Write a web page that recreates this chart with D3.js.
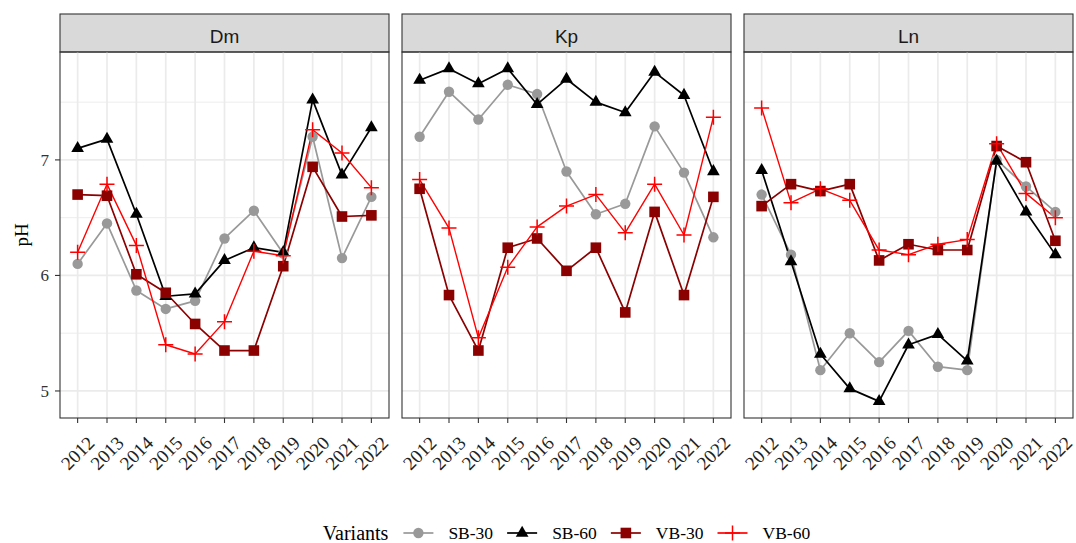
<!DOCTYPE html>
<html>
<head>
<meta charset="utf-8">
<script src="https://cdn.jsdelivr.net/npm/d3@7"></script>
<style>
  body { margin: 0; background: #fff; }
  svg { display: block; }
</style>
</head>
<body>
<svg id="chart" width="1076" height="543"></svg>
<script>
// Soil pH by site, year and variant
const years = ["2012","2013","2014","2015","2016","2017","2018","2019","2020","2021","2022"];
const sites = ["Dm", "Kp", "Ln"];
const variants = ["SB-30", "SB-60", "VB-30", "VB-60"];
const yTicks = [5, 6, 7];

const dmSB30 = [6.10, 6.45, 5.87, 5.71, 5.78, 6.32, 6.56, 6.19, 7.20, 6.15, 6.68];
const dmSB60 = [7.10, 7.18, 6.53, 5.82, 5.84, 6.13, 6.24, 6.20, 7.52, 6.87, 7.28];
const dmVB30 = [6.70, 6.69, 6.01, 5.85, 5.58, 5.35, 5.35, 6.08, 6.94, 6.51, 6.52];
const dmVB60 = [6.20, 6.79, 6.26, 5.40, 5.32, 5.60, 6.21, 6.17, 7.26, 7.06, 6.76];

const kpSB30 = [7.20, 7.59, 7.35, 7.65, 7.57, 6.90, 6.53, 6.62, 7.29, 6.89, 6.33];
const kpSB60 = [7.69, 7.79, 7.66, 7.79, 7.48, 7.70, 7.50, 7.41, 7.76, 7.56, 6.90];
const kpVB30 = [6.75, 5.83, 5.35, 6.24, 6.32, 6.04, 6.24, 5.68, 6.55, 5.83, 6.68];
const kpVB60 = [6.83, 6.41, 5.46, 6.07, 6.42, 6.60, 6.70, 6.37, 6.79, 6.35, 7.37];

const lnSB30 = [6.70, 6.18, 5.18, 5.50, 5.25, 5.52, 5.21, 5.18, 7.00, 6.77, 6.55];
const lnSB60 = [6.91, 6.12, 5.32, 5.02, 4.91, 5.40, 5.49, 5.26, 6.99, 6.55, 6.18];
const lnVB30 = [6.60, 6.79, 6.73, 6.79, 6.13, 6.27, 6.22, 6.22, 7.12, 6.98, 6.30];
const lnVB60 = [7.45, 6.63, 6.75, 6.65, 6.22, 6.18, 6.27, 6.31, 7.14, 6.71, 6.50];

const siteData = {
  Dm: [dmSB30, dmSB60, dmVB30, dmVB60],
  Kp: [kpSB30, kpSB60, kpVB30, kpVB60],
  Ln: [lnSB30, lnSB60, lnVB30, lnVB60]
};

// Styling per variant
const colors = { "SB-30": "#999999", "SB-60": "#000000", "VB-30": "#8B0000", "VB-60": "#FF0000" };
const shapes = { "SB-30": "circle", "SB-60": "triangle", "VB-30": "square", "VB-60": "plus" };

const serif = "'Liberation Serif', 'Times New Roman', serif";
const sans = "'Liberation Sans', Arial, sans-serif";

const svg = d3.select("#chart");
svg.append("rect").attr("width", 1076).attr("height", 543).attr("fill", "#fff");

// Layout
const plotLeft = 60, plotRight = 1073, gap = 13;
const panelW = (plotRight - plotLeft - 2 * gap) / 3;
const stripTop = 14, panelTop = 52, panelBottom = 418;

// Shared y scale with 5% expansion
const allVals = Object.values(siteData).flat(2);
const yMin = d3.min(allVals), yMax = d3.max(allVals);
const pad = (yMax - yMin) * 0.05;
const y = d3.scaleLinear().domain([yMin - pad, yMax + pad]).range([panelBottom, panelTop]);
const minorY = [5.5, 6.5, 7.5];

function drawMarker(g, shape, color, cx, cy) {
  if (shape === "circle") {
    g.append("circle").attr("cx", cx).attr("cy", cy).attr("r", 5.2).attr("fill", color);
  } else if (shape === "triangle") {
    g.append("path").attr("d", d3.symbol(d3.symbolTriangle, 70)()).attr("transform", `translate(${cx},${cy})`).attr("fill", color);
  } else if (shape === "square") {
    g.append("rect").attr("x", cx - 5.3).attr("y", cy - 5.3).attr("width", 10.6).attr("height", 10.6).attr("fill", color);
  } else {
    g.append("path").attr("d", "M-7.5,0H7.5M0,-7.5V7.5").attr("transform", `translate(${cx},${cy})`)
      .attr("stroke", color).attr("stroke-width", 1.5).attr("fill", "none");
  }
}

sites.forEach((site, i) => {
  const x0 = plotLeft + i * (panelW + gap);
  const x = d3.scalePoint().domain(years).range([x0, x0 + panelW]).padding(0.6);
  const g = svg.append("g");

  // Strip
  g.append("rect").attr("x", x0).attr("y", stripTop).attr("width", panelW).attr("height", panelTop - stripTop)
    .attr("fill", "#D9D9D9").attr("stroke", "#333333").attr("stroke-width", 1.1);
  g.append("text").attr("x", x0 + panelW / 2).attr("y", 43).attr("text-anchor", "middle")
    .attr("font-family", sans).attr("font-size", 19).attr("fill", "#1A1A1A").text(site);

  // Grid: minor then major
  g.selectAll(".gminor").data(minorY).join("line")
    .attr("x1", x0).attr("x2", x0 + panelW).attr("y1", d => y(d)).attr("y2", d => y(d))
    .attr("stroke", "#EBEBEB").attr("stroke-width", 0.9);
  g.selectAll(".gmajy").data(yTicks).join("line")
    .attr("x1", x0).attr("x2", x0 + panelW).attr("y1", d => y(d)).attr("y2", d => y(d))
    .attr("stroke", "#EBEBEB").attr("stroke-width", 1.7);
  g.selectAll(".gmajx").data(years).join("line")
    .attr("x1", d => x(d)).attr("x2", d => x(d)).attr("y1", panelTop).attr("y2", panelBottom)
    .attr("stroke", "#EBEBEB").attr("stroke-width", 1.7);

  // Lines
  const line = d3.line().x((d, j) => x(years[j])).y(d => y(d));
  variants.forEach((v, k) => {
    g.append("path").datum(siteData[site][k]).attr("d", line)
      .attr("fill", "none").attr("stroke", colors[v])
      .attr("stroke-width", v === "VB-60" ? 1.4 : 1.7).attr("stroke-linejoin", "round");
  });
  // Points
  variants.forEach((v, k) => {
    siteData[site][k].forEach((val, j) => drawMarker(g, shapes[v], colors[v], x(years[j]), y(val)));
  });

  // Panel border
  g.append("rect").attr("x", x0).attr("y", panelTop).attr("width", panelW).attr("height", panelBottom - panelTop)
    .attr("fill", "none").attr("stroke", "#333333").attr("stroke-width", 1.1);

  // X axis ticks and rotated labels
  const xa = g.append("g");
  years.forEach(yr => {
    xa.append("line").attr("x1", x(yr)).attr("x2", x(yr)).attr("y1", panelBottom).attr("y2", panelBottom + 5)
      .attr("stroke", "#333333").attr("stroke-width", 1.1);
    xa.append("text").attr("transform", `translate(${x(yr)},${453}) rotate(-45)`)
      .attr("text-anchor", "middle").attr("dominant-baseline", "central")
      .attr("font-family", serif).attr("font-size", 19).attr("fill", "#222222").text(yr);
  });

  // Y axis on first panel only
  if (i === 0) {
    yTicks.forEach(t => {
      g.append("line").attr("x1", x0 - 5).attr("x2", x0).attr("y1", y(t)).attr("y2", y(t))
        .attr("stroke", "#333333").attr("stroke-width", 1.1);
      g.append("text").attr("x", x0 - 11).attr("y", y(t)).attr("dy", "0.35em").attr("text-anchor", "end")
        .attr("font-family", serif).attr("font-size", 17).attr("fill", "#333333").text(t);
    });
  }
});

// Y axis title
svg.append("text").attr("transform", `translate(28,${(panelTop + panelBottom) / 2}) rotate(-90)`)
  .attr("text-anchor", "middle").attr("font-family", serif).attr("font-size", 19).attr("fill", "#000")
  .text("pH");

// Legend, centred under the panels
const legend = svg.append("g");
const ly = 533;
const title = legend.append("text").attr("y", ly).attr("dy", "0.35em")
  .attr("font-family", serif).attr("font-size", 20).attr("fill", "#000").text("Variants");
const labels = variants.map(v => legend.append("text").attr("y", ly).attr("dy", "0.35em")
  .attr("font-family", serif).attr("font-size", 17.5).attr("fill", "#000").text(v));
const keyW = 30, gapKey = 15, gapLabel = 14;
const titleW = title.node().getComputedTextLength();
const labelW = labels.map(t => t.node().getComputedTextLength());
const totalW = titleW + variants.length * (gapKey + keyW + gapKey) + d3.sum(labelW) + (variants.length - 1) * (gapLabel - gapKey);
let cx = (plotLeft + plotRight) / 2 - totalW / 2;
title.attr("x", cx);
cx += titleW + gapKey;
variants.forEach((v, k) => {
  legend.append("line").attr("x1", cx).attr("x2", cx + keyW).attr("y1", ly).attr("y2", ly)
    .attr("stroke", colors[v]).attr("stroke-width", 1.7);
  drawMarker(legend, shapes[v], colors[v], cx + keyW / 2, ly);
  cx += keyW + gapKey;
  labels[k].attr("x", cx);
  cx += labelW[k] + gapLabel;
});
</script>
</body>
</html>
